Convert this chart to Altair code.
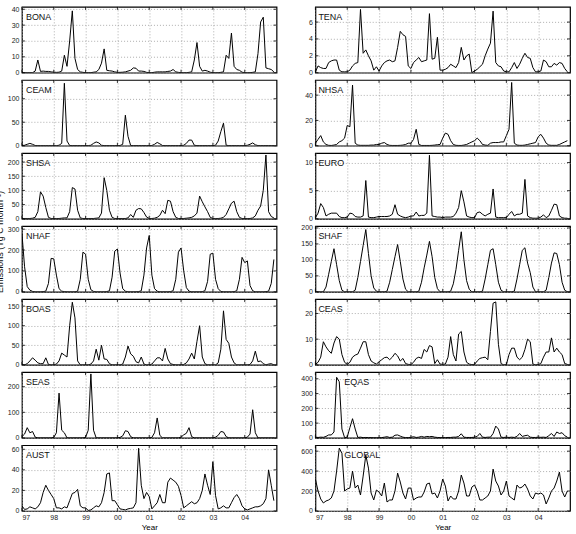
import altair as alt
import pandas as pd

START_YEAR = 1997
N_MONTHS = 96
YEARS = [1997, 1998, 1999, 2000, 2001, 2002, 2003, 2004]

BONA = [0,0,0,0,0,1,8,0.8,1,0.8,0.8,0.5,
        0.3,0.2,0.3,1,11,4,20,39,9,2,0.5,0.2,
        0,0,0,0.3,0.5,2,6,15,1.5,1.2,1,0.5,
        0.2,0.2,0.3,0.5,1,1.5,3,2.8,1,1,0.8,0.2,
        0,0,0.3,0.5,0.5,0.5,0.5,0.8,1,2,0.5,0.2,
        0,0,0,0.2,0.5,8,19,4,1,1.5,1,0.3,
        0,0,0,0.2,0.5,11,9,25,4,2,1.5,0.3,
        0,0,0,0.2,0.5,12,32,35,3,2.5,2,0.5]
CEAM = [0.5,1,3,5,3,0.5,0.2,0.2,0.2,0.2,0.2,0.2,
        0.2,0.2,1,5,133,10,0.5,0.3,0.3,0.3,0.3,0.3,
        0.3,0.3,1,5,8,6,1,0.3,0.3,0.3,0.3,0.3,
        0.3,0.5,3,65,20,0.5,0.3,0.3,0.3,0.3,0.3,0.3,
        0.3,0.5,3,7,4,0.5,0.3,0.3,0.3,0.3,0.3,0.3,
        0.5,1,5,12,12,1,0.3,0.3,0.3,0.3,0.3,0.3,
        0.3,1,10,30,48,1,0.3,0.3,0.3,0.3,0.3,0.3,
        0.3,1,3,6,2,0.3,0.3,0.3,0.3,0.3,0.3,0.3]
SHSA = [1,1,1,1,2,5,25,95,80,40,5,1,
        1,1,1,2,3,3,25,110,105,30,3,1,
        1,1,1,1,2,3,20,145,100,30,5,1,
        1,1,1,1,3,15,5,30,36,35,22,6,
        1,1,2,5,12,30,18,65,62,25,5,1,
        1,1,2,3,5,10,20,80,60,42,25,5,
        1,1,1,2,5,15,35,55,62,25,5,1,
        1,1,1,3,10,30,45,100,225,25,8,3]
NHAF = [280,120,25,8,2,0,0,0,1,3,40,160,
        158,80,15,3,1,0,0,0,0,3,60,190,
        180,60,10,2,0,0,0,0,1,5,70,195,
        205,90,15,3,0,0,0,0,1,5,80,210,
        270,80,15,3,0,0,0,0,1,5,60,190,
        210,100,20,3,0,0,0,0,1,5,50,180,
        185,60,15,2,0,0,0,0,1,5,60,165,
        140,148,30,5,0,0,0,0,1,3,40,155]
BOAS = [0,0,3,10,18,12,5,3,3,18,1,0,
        0,2,10,30,25,20,100,160,120,10,0,0,
        0,0,2,10,40,12,50,15,14,3,0,0,
        0,0,2,20,48,28,22,8,5,20,2,0,
        0,2,10,18,18,10,42,15,3,1,0,0,
        0,1,5,15,30,15,60,100,20,3,0,0,
        0,0,5,40,138,65,55,20,5,0,0,0,
        0,0,1,10,35,8,10,3,0,2,3,0]
SEAS = [5,15,40,20,25,3,0,0,0,0,0,0,
        2,20,175,30,20,0,0,0,0,0,0,0,
        2,30,250,30,0,0,0,0,0,0,0,0,
        0,2,8,28,25,5,0,0,0,0,0,0,
        0,2,20,78,10,0,0,0,0,0,0,0,
        3,12,18,40,5,0,0,0,0,0,0,0,
        0,3,10,25,23,5,0,0,0,0,0,0,
        0,3,15,110,20,0,0,0,0,0,0,0]
AUST = [5,1.5,2,4,3,2,4,8,18,25,20,16,
        12,3,3,2,4,3,10,17,18,21,5,3,
        3,0.5,1,3,5,4,8,18,36,37,10,10,
        6,2,1.5,1,2,2.5,3,8,61,25,12,18,
        14,2,5,8,16,8,8,28,32,30,28,24,
        15,3,5,7,9,7,8,12,20,36,25,16,
        48,15,2,3,5,3,3,8,13,16,12,5,
        2,1,2,3,4,4,5,7,12,40,25,10]
TENA = [0.1,0.8,0.6,0.5,0.5,1.2,1.4,1.5,1.5,0.3,0.1,0.1,
        0.1,0.3,0.8,1.1,1.2,7.5,2.3,2.7,2.0,1.4,0.3,0.7,
        0.2,0.8,1.2,1.4,1.5,1.3,1.4,3.0,4.9,4.5,4.3,0.8,
        0.5,1.2,1.5,1.8,1.3,1.4,1.5,7.0,1.6,1.7,4.2,0.3,
        0.3,0.4,0.6,1.0,0.8,0.6,1.2,3.0,1.5,2.0,2.2,0.0,
        0.2,0.4,0.7,1.0,2.0,2.8,3.5,7.3,1.2,0.8,0.7,0.2,
        0.1,0.1,0.6,1.2,0.5,1.0,1.7,2.3,1.8,1.7,0.6,0.1,
        0.1,0.2,1.5,1.3,0.7,0.7,1.1,0.9,1.2,1.1,0.5,0.1]
NHSA = [2,5,8,3,1,0.3,0.2,0.5,1,3,4,6,
        16,15,48,2,0.5,0.3,0.3,0.3,0.3,0.5,0.5,1,
        1,2,2.5,1,0.3,0.2,0.2,0.2,0.3,0.5,1,2,
        2,5,13,1,0.2,0.2,0.2,0.2,0.3,0.5,0.8,1,
        6,10,9,4,1,0.3,0.2,0.2,0.5,1,2,3,
        4,6,4,1,0.5,0.3,2,2.5,2.5,2.5,3,3,
        8,13,50,2,0.5,0.3,0.3,0.5,1,1.5,2,2.5,
        7,9,6,2,0.5,0.3,0.3,0.3,1,2,3,4]
EURO = [0.2,1.0,2.7,2.0,0.5,0.8,1.0,1.0,1.0,0.4,0.2,0.2,
        0.3,1.0,0.9,0.4,0.3,0.3,0.5,6.8,0.3,0.2,0.2,0.3,
        0.4,0.4,0.4,0.4,0.5,0.8,2.5,0.8,0.5,0.3,0.2,0.3,
        0.5,0.5,1.2,0.5,0.6,0.6,1.0,11.3,0.5,0.4,0.3,0.3,
        0.2,0.3,0.3,0.3,0.4,1.0,2.0,5.0,3.0,0.5,0.3,0.2,
        0.2,1.1,1.2,0.8,0.5,0.8,1.0,5.3,0.3,0.2,0.2,0.2,
        0.2,0.8,1.3,0.5,0.8,0.8,1.0,7.0,0.5,0.2,0.1,0.1,
        0.1,0.3,0.7,0.2,0.5,1.5,2.6,2.5,0.5,0.2,0.1,0.1]
SHAF = [0,0,0,0,15,55,95,135,85,35,5,0,
        0,0,0,5,45,95,145,195,120,50,12,2,
        0,0,0,2,30,70,110,148,95,40,8,0,
        0,0,0,2,30,75,115,158,110,45,10,0,
        0,0,0,2,25,70,130,188,100,35,8,0,
        0,0,0,2,40,85,130,135,85,30,5,0,
        0,0,0,2,40,85,130,138,90,60,15,0,
        0,0,0,5,45,90,122,120,85,30,5,0]
CEAS = [0.2,1.0,3.0,9.0,7.0,5.5,4.5,8.5,11.0,10.0,4.0,1.0,
        0.2,1.0,3.0,3.8,4.2,6.5,9.0,9.0,4.0,1.5,0.8,0.3,
        1.2,2.0,2.8,3.0,2.0,3.0,4.5,3.5,1.5,2.5,0.5,0.2,
        0.1,1.0,2.5,3.0,2.5,6.0,5.0,7.5,7.0,0.5,2.0,0.3,
        0.2,0.3,3.0,11.0,4.0,1.5,12.0,13.0,5.0,1.0,0.3,0.1,
        0.2,1.5,2.5,2.8,3.0,2.0,13.0,24.0,24.5,8.0,0.5,0.0,
        0.1,4.0,6.5,6.5,3.0,2.0,3.0,6.0,10.0,9.0,0.3,0.0,
        0.1,0.5,3.0,5.0,5.0,10.5,5.0,6.5,5.0,4.0,0.5,0.2]
EQAS = [5,3,5,4,10,20,20,40,410,380,60,2,
        5,70,130,60,3,5,2,3,2,2,1,1,
        1,2,5,8,3,5,18,20,12,5,2,2,
        4,8,3,5,10,5,10,8,10,5,3,2,
        2,2,3,3,5,5,10,28,5,3,3,3,
        5,10,30,5,3,5,5,30,80,60,5,3,
        5,3,5,3,10,30,10,15,18,5,3,3,
        5,4,5,3,15,30,10,40,30,35,15,5]
GLOBAL = [320,200,120,80,100,110,130,200,400,630,580,200,
          220,230,400,230,260,160,350,560,430,180,110,210,
          190,150,280,90,110,110,200,380,290,180,120,230,
          230,110,130,140,140,190,270,280,170,180,130,200,
          320,250,100,150,120,120,200,360,280,150,150,240,
          260,200,110,110,130,150,200,420,300,250,160,200,
          300,150,130,110,260,230,240,270,220,150,120,180,
          170,180,160,70,130,200,230,300,390,200,140,200]

SERIES = {"BONA": BONA, "TENA": TENA, "CEAM": CEAM, "NHSA": NHSA,
          "SHSA": SHSA, "EURO": EURO, "NHAF": NHAF, "SHAF": SHAF,
          "BOAS": BOAS, "CEAS": CEAS, "SEAS": SEAS, "EQAS": EQAS,
          "AUST": AUST, "GLOBAL": GLOBAL}
ORDER = ["BONA", "TENA", "CEAM", "NHSA", "SHSA", "EURO", "NHAF", "SHAF",
         "BOAS", "CEAS", "SEAS", "EQAS", "AUST", "GLOBAL"]
Y_TOP = {"BONA": 41.5, "TENA": 7.8, "CEAM": 140, "NHSA": 52, "SHSA": 232,
         "EURO": 11.7, "NHAF": 315, "SHAF": 206, "BOAS": 168, "CEAS": 25.6,
         "SEAS": 257, "EQAS": 445, "AUST": 64, "GLOBAL": 660}
Y_TICKS = {"BONA": [0, 10, 20, 30, 40], "TENA": [0, 2, 4, 6],
           "CEAM": [0, 50, 100], "NHSA": [0, 20, 40],
           "SHSA": [0, 50, 100, 150, 200], "EURO": [0, 5, 10],
           "NHAF": [0, 100, 200, 300], "SHAF": [0, 50, 100, 150, 200],
           "BOAS": [0, 50, 100, 150], "CEAS": [0, 10, 20],
           "SEAS": [0, 100, 200], "EQAS": [0, 100, 200, 300, 400],
           "AUST": [0, 20, 40, 60], "GLOBAL": [0, 200, 400, 600]}
Y_TITLE = "Emissions (Tg C month\u207b\u00b9)"

FONT = "Liberation Sans"
W, H = 255.5, 66
TK = 3


def panel(name, idx):
    bottom = idx >= 12
    right = idx % 2 == 1
    xscale = alt.Scale(domain=[1997, 2005], nice=False)
    yscale = alt.Scale(domain=[0, Y_TOP[name]], nice=False)
    df = pd.DataFrame({"t": [START_YEAR + i / 12 for i in range(N_MONTHS)],
                       "v": SERIES[name]})
    if bottom:
        xax = alt.Axis(values=YEARS, grid=True, ticks=False, domain=False,
                       labelExpr="slice(toString(datum.value), 2)",
                       labelFontSize=7, labelPadding=3, titleFontSize=8,
                       titleFontWeight="normal", titlePadding=3, titleFont=FONT)
        xtitle = "Year"
    else:
        xax = alt.Axis(values=YEARS, grid=True, ticks=False, domain=False, labels=False)
        xtitle = None
    yax = alt.Axis(values=Y_TICKS[name], grid=True, ticks=False,
                   domain=False, labelFontSize=7, labelPadding=3)

    line = alt.Chart(df).mark_line(color="black", strokeWidth=1, clip=True).encode(
        x=alt.X("t:Q", title=xtitle, axis=xax, scale=xscale),
        y=alt.Y("v:Q", title=None, axis=yax, scale=yscale))

    # inward tick marks (MATLAB style) on all four sides
    xt = pd.DataFrame({"t": YEARS})
    xt_bot = alt.Chart(xt).mark_rule(color="black", strokeWidth=0.8).encode(
        x=alt.X("t:Q", title=xtitle, axis=xax, scale=xscale),
        y=alt.value(H), y2=alt.value(H - TK))
    xt_top = alt.Chart(xt).mark_rule(color="black", strokeWidth=0.8).encode(
        x=alt.X("t:Q", title=xtitle, axis=xax, scale=xscale),
        y=alt.value(0), y2=alt.value(TK))
    yt = pd.DataFrame({"v": Y_TICKS[name]})
    yt_l = alt.Chart(yt).mark_rule(color="black", strokeWidth=0.8).encode(
        y=alt.Y("v:Q", title=None, axis=yax, scale=yscale),
        x=alt.value(0), x2=alt.value(TK))
    yt_r = alt.Chart(yt).mark_rule(color="black", strokeWidth=0.8).encode(
        y=alt.Y("v:Q", title=None, axis=yax, scale=yscale),
        x=alt.value(W), x2=alt.value(W - TK))

    lx = 29 if name in ("EQAS", "GLOBAL") else (3 if right else 4)
    lab = alt.Chart(pd.DataFrame({"lab": [name]})).mark_text(
        align="left", baseline="middle", fontSize=9, font=FONT, color="#111"
    ).encode(x=alt.value(lx), y=alt.value(10), text="lab:N")
    layers = [line, xt_bot, xt_top, yt_l, yt_r, lab]
    if name == "NHAF":
        ytitle = alt.Chart(pd.DataFrame({"lab": [Y_TITLE]})).mark_text(
            angle=270, align="center", baseline="middle", fontSize=9, font=FONT, color="#111"
        ).encode(x=alt.value(-22), y=alt.value(16), text="lab:N")
        layers.append(ytitle)
    return alt.layer(*layers).properties(width=W, height=H)


charts = [panel(n, i) for i, n in enumerate(ORDER)]
chart = alt.concat(*charts, columns=2, spacing={"row": 7.3, "column": 38.5},
                   bounds="flush").properties(
    padding={"left": -5, "top": 3, "right": 5, "bottom": 0}
).configure_view(stroke="black", strokeWidth=1.2).configure_axis(
    labelFont=FONT, labelColor="#222", gridColor="#999", gridDash=[1, 2],
    gridWidth=0.8
).configure_text(font=FONT)

chart.save("out.html", embed_options={"renderer": "svg", "actions": False})
